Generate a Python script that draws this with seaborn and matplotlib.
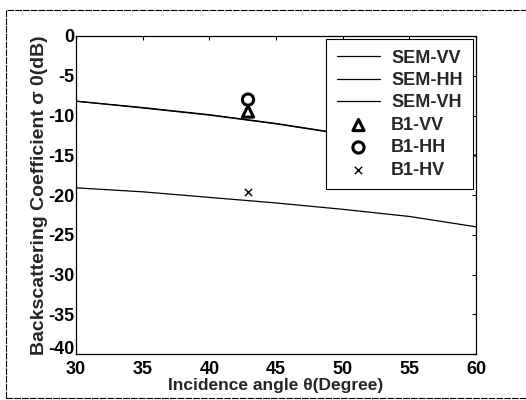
import matplotlib
matplotlib.use("Agg")
import matplotlib.pyplot as plt
import matplotlib.transforms as mtransforms
import seaborn as sns
import pandas as pd
from matplotlib.patches import Rectangle

# Model curves (dB) against incidence angle (degrees)
angles = [30, 35, 40, 45, 50, 55, 60]
sem_vv = [-8.2, -9.0, -9.9, -11.0, -12.3, -13.6, -15.0]
sem_hh = [-8.2, -9.05, -9.95, -11.05, -12.35, -13.7, -15.1]
sem_vh = [-19.1, -19.6, -20.3, -21.0, -21.8, -22.7, -24.0]

# Measured points at the B1 site
b1_angle = 42.9
b1_vv = -9.5
b1_hh = -8.0
b1_hv = -19.6

x_ticks = [30, 35, 40, 45, 50, 55, 60]
y_ticks = [0, -5, -10, -15, -20, -25, -30, -35, -40]

sns.set_style("white")
plt.rcParams["font.family"] = ["Liberation Sans", "DejaVu Sans"]
plt.rcParams["font.weight"] = "bold"

fig = plt.figure(figsize=(5.26, 4.0), dpi=100)
ax = fig.add_axes([0.1445, 0.115, 0.7605, 0.795])

for name, vals in [("SEM-VV", sem_vv), ("SEM-HH", sem_hh), ("SEM-VH", sem_vh)]:
    df = pd.DataFrame({"angle": angles, "sigma": vals})
    sns.lineplot(data=df, x="angle", y="sigma", ax=ax, color="black",
                 linewidth=0.9, label=name)

points = [("B1-VV", b1_vv, "^", 65, 2.2),
          ("B1-HH", b1_hh, "o", 65, 2.2),
          ("B1-HV", b1_hv, "x", 28, 1.0)]
for name, val, mk, sz, lw in points:
    df = pd.DataFrame({"angle": [b1_angle], "sigma": [val]})
    if mk == "x":
        sns.scatterplot(data=df, x="angle", y="sigma", ax=ax, marker=mk,
                        s=sz, color="black", linewidth=lw, label=name)
    else:
        sns.scatterplot(data=df, x="angle", y="sigma", ax=ax, marker=mk,
                        s=sz, facecolor="none", edgecolor="black",
                        linewidth=lw, label=name)

ax.set_xlim(30, 60)
ax.set_ylim(-40, 0)
ax.set_xticks(x_ticks)
ax.set_yticks(y_ticks)
ax.set_xticklabels([str(t) for t in x_ticks], fontsize=13, fontweight="bold")
ax.set_yticklabels([str(t) for t in y_ticks], fontsize=13, fontweight="bold")
ax.tick_params(direction="in", length=3, width=0.8, top=True, right=True,
               pad=1, colors="black")
ax.tick_params(axis="x", pad=5)
for sp in ax.spines.values():
    sp.set_color("black")
    sp.set_linewidth(0.9)

# lift the bottom y label a little so it clears the first x label
lowest = ax.get_yticklabels()[-1]
lowest.set_transform(lowest.get_transform() +
                     mtransforms.ScaledTranslation(0, 5 / 72, fig.dpi_scale_trans))

ax.set_xlabel("Incidence angle θ(Degree)", fontsize=12.5, fontweight="bold",
              labelpad=0)
ax.set_ylabel("Backscattering Coefficient σ 0(dB)", fontsize=14,
              fontweight="bold", labelpad=0)

leg = ax.legend(loc="upper right", frameon=True, fancybox=False,
                edgecolor="black", framealpha=1.0, handlelength=2.4,
                handletextpad=0.6, borderpad=0.6, labelspacing=0.3,
                borderaxespad=0.15, prop={"weight": "bold", "size": 13})
leg.get_frame().set_linewidth(0.8)

# Outer frame around the whole figure
fig.patches.append(Rectangle((0.011, 0.006), 0.995, 0.969,
                             transform=fig.transFigure, fill=False,
                             edgecolor="black", linewidth=0.8,
                             linestyle=(0, (6, 1))))

fig.savefig("out.png", dpi=100)
